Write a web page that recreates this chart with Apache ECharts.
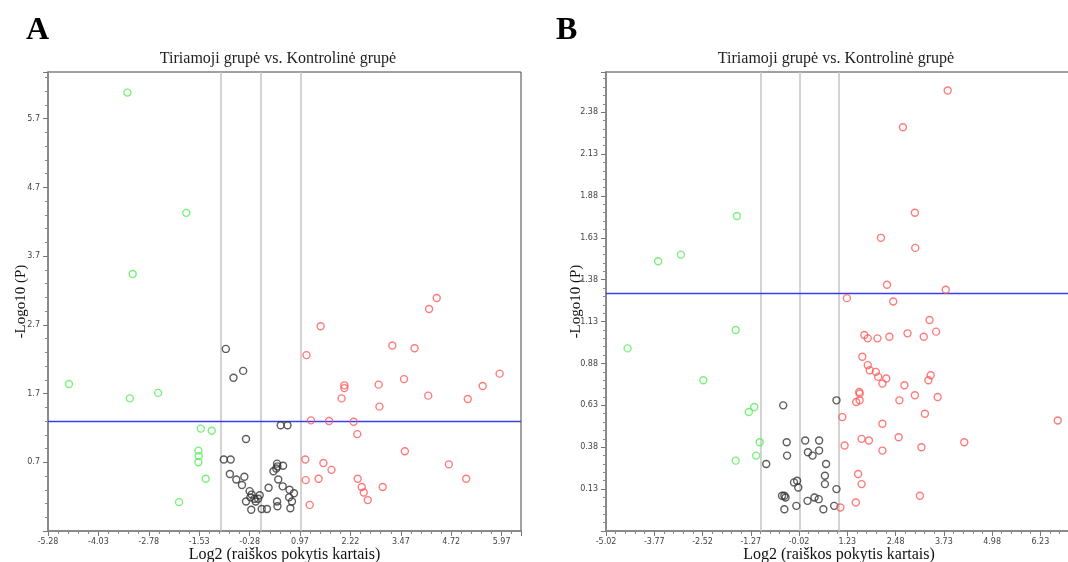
<!DOCTYPE html>
<html>
<head>
<meta charset="utf-8">
<title>Volcano plots</title>
<script src="https://cdn.jsdelivr.net/npm/echarts@6/dist/echarts.min.js"></script>
<style>
  html, body { margin: 0; padding: 0; background: #fff; }
  #chart { width: 1068px; height: 562px; }
</style>
</head>
<body>
<div id="chart"></div>
<script>
// [log2 fold change, -log10 p] per point
const aGreen = [
  [-3.31, 6.08], [-1.85, 4.33], [-3.18, 3.44], [-4.76, 1.84], [-3.25, 1.63],
  [-2.55, 1.71], [-1.49, 1.19], [-1.22, 1.16], [-1.55, 0.87], [-1.54, 0.79],
  [-1.55, 0.70], [-1.37, 0.46], [-2.03, 0.12]
]
const aBlack = [
  [-0.87, 2.35], [-0.44, 2.03], [-0.68, 1.93], [-0.37, 1.04], [-0.92, 0.74],
  [-0.75, 0.74], [0.49, 1.24], [0.66, 1.24], [0.40, 0.68], [0.41, 0.64],
  [0.55, 0.65], [0.38, 0.61], [0.31, 0.57], [-0.77, 0.53], [-0.61, 0.45],
  [-0.41, 0.49], [-0.47, 0.37], [0.43, 0.45], [0.54, 0.35], [0.19, 0.33],
  [0.71, 0.30], [0.82, 0.25], [-0.28, 0.28], [-0.23, 0.23], [-0.26, 0.19],
  [-0.03, 0.22], [-0.16, 0.17], [-0.07, 0.17], [-0.13, 0.13], [-0.37, 0.13],
  [0.70, 0.19], [0.77, 0.13], [0.40, 0.13], [0.41, 0.06], [0.02, 0.02],
  [0.15, 0.02], [-0.24, 0.01], [0.73, 0.03]
]
const aRed = [
  [4.36, 3.09], [4.17, 2.93], [1.48, 2.68], [3.26, 2.40], [3.81, 2.36],
  [1.13, 2.26], [5.92, 1.99], [3.55, 1.91], [5.50, 1.81], [2.07, 1.82],
  [2.07, 1.78], [2.92, 1.83], [4.15, 1.67], [2.00, 1.63], [5.13, 1.62],
  [2.94, 1.51], [1.24, 1.31], [1.69, 1.30], [2.30, 1.29], [2.39, 1.11],
  [3.57, 0.86], [1.10, 0.74], [1.55, 0.69], [4.66, 0.67], [1.75, 0.59],
  [1.11, 0.44], [1.43, 0.46], [2.40, 0.46], [5.09, 0.46], [2.50, 0.34],
  [3.02, 0.34], [2.55, 0.26], [2.65, 0.15], [1.21, 0.08]
]

const bGreen = [
  [-3.67, 1.49], [-3.08, 1.53], [-1.63, 1.76], [-1.66, 1.08], [-4.46, 0.97],
  [-2.50, 0.78], [-1.18, 0.62], [-1.32, 0.59], [-1.04, 0.41], [-1.13, 0.33],
  [-1.66, 0.30]
]
const bBlack = [
  [-0.43, 0.63], [0.95, 0.66], [-0.34, 0.41], [0.14, 0.42], [0.50, 0.42],
  [-0.33, 0.33], [0.21, 0.35], [0.33, 0.33], [0.50, 0.36], [-0.87, 0.28],
  [0.68, 0.28], [-0.07, 0.18], [-0.15, 0.17], [-0.04, 0.14], [0.65, 0.21],
  [0.65, 0.16], [0.95, 0.13], [-0.46, 0.09], [-0.40, 0.09], [-0.37, 0.08],
  [0.38, 0.08], [0.49, 0.07], [0.20, 0.06], [-0.09, 0.03], [-0.40, 0.01],
  [0.61, 0.01], [0.89, 0.03]
]
const bRed = [
  [3.83, 2.51], [2.67, 2.29], [2.98, 1.78], [2.10, 1.63], [2.99, 1.57],
  [2.26, 1.35], [3.78, 1.32], [1.22, 1.27], [2.42, 1.25], [3.36, 1.14],
  [3.53, 1.07], [1.67, 1.05], [1.76, 1.03], [2.01, 1.03], [2.32, 1.04],
  [2.79, 1.06], [3.21, 1.04], [1.62, 0.92], [1.76, 0.87], [1.81, 0.84],
  [1.97, 0.83], [2.03, 0.80], [2.24, 0.79], [2.14, 0.76], [2.71, 0.75],
  [3.39, 0.81], [3.33, 0.78], [1.54, 0.71], [1.55, 0.70], [2.98, 0.69],
  [3.57, 0.68], [1.55, 0.66], [1.46, 0.65], [2.58, 0.66], [3.24, 0.58],
  [1.10, 0.56], [2.14, 0.52], [6.68, 0.54], [1.60, 0.43], [2.56, 0.44],
  [1.79, 0.42], [4.26, 0.41], [1.16, 0.39], [2.14, 0.36], [3.15, 0.38],
  [1.51, 0.22], [1.60, 0.16], [3.11, 0.09], [1.45, 0.05], [1.05, 0.02]
]

const foldLines = [-1, 0, 1]
const pThreshold = 1.3

const titleText = 'Tiriamoji grupė vs. Kontrolinė grupė'
const xName = 'Log2 (raiškos pokytis kartais)'
const yName = '-Logo10 (P)'

const serif = '"Liberation Serif", "DejaVu Serif", serif'

function xAxisFor(idx, min, max) {
  return {
    type: 'value',
    gridIndex: idx,
    min: min,
    max: max,
    interval: 1.25,
    name: xName,
    nameLocation: 'middle',
    nameGap: 16,
    nameMoveOverlap: false,
    nameTextStyle: { fontFamily: serif, fontSize: 16, color: '#111' },
    axisLine: { onZero: false, lineStyle: { color: '#8a8a8a', width: 2 } },
    axisTick: { length: 5, lineStyle: { color: '#777' } },
    minorTick: { show: true, splitNumber: 5, length: 3, lineStyle: { color: '#888' } },
    axisLabel: {
      showMaxLabel: false,
      margin: 7,
      fontSize: 8,
      fontFamily: '"DejaVu Sans", sans-serif',
      color: '#444',
      formatter: v => v.toFixed(2)
    },
    splitLine: { show: false }
  }
}

function yAxisFor(idx, min, max, interval, digits, gap) {
  return {
    type: 'value',
    gridIndex: idx,
    min: min,
    max: max,
    interval: interval,
    name: yName,
    nameLocation: 'middle',
    nameGap: gap,
    nameMoveOverlap: false,
    nameTextStyle: { fontFamily: serif, fontSize: 15, color: '#111' },
    axisLine: { onZero: false, lineStyle: { color: '#8a8a8a', width: 2 } },
    axisTick: { length: 5, lineStyle: { color: '#777' } },
    minorTick: { show: true, splitNumber: 5, length: 3, lineStyle: { color: '#888' } },
    axisLabel: {
      showMinLabel: false,
      showMaxLabel: false,
      margin: 8,
      fontSize: 8,
      fontFamily: '"DejaVu Sans", sans-serif',
      color: '#444',
      formatter: v => v.toFixed(digits)
    },
    splitLine: { show: false }
  }
}

function pointSeries(idx, data, color, withLines) {
  const s = {
    type: 'scatter',
    xAxisIndex: idx,
    yAxisIndex: idx,
    data: data,
    symbol: 'circle',
    symbolSize: 7,
    itemStyle: { color: 'rgba(0,0,0,0)', borderColor: color, borderWidth: 1.4 },
    z: 5
  }
  if (withLines) {
    s.markLine = {
      silent: true,
      symbol: 'none',
      label: { show: false },
      data: foldLines.map(v => ({ xAxis: v, lineStyle: { color: '#c4c4c4', width: 1.5, type: 'solid' } }))
        .concat([{ yAxis: pThreshold, lineStyle: { color: '#3c3cf0', width: 1.3, type: 'solid' } }])
    }
  }
  return s
}

const chart = echarts.init(document.getElementById('chart'), null, { renderer: 'canvas' })

const option = {
  animation: false,
  backgroundColor: '#fff',
  title: [
    { text: 'A', left: 26, top: 15, padding: 0, textStyle: { fontFamily: serif, fontSize: 32, fontWeight: 'bold', color: '#000' } },
    { text: 'B', left: 556, top: 15, padding: 0, textStyle: { fontFamily: serif, fontSize: 32, fontWeight: 'bold', color: '#000' } },
    { text: titleText, left: 278, top: 51, padding: 0, textAlign: 'center', textStyle: { fontFamily: serif, fontSize: 16, fontWeight: 'normal', color: '#222' } },
    { text: titleText, left: 836, top: 51, padding: 0, textAlign: 'center', textStyle: { fontFamily: serif, fontSize: 16, fontWeight: 'normal', color: '#222' } }
  ],
  grid: [
    { left: 48, top: 72, width: 473, height: 459, outerBoundsMode: 'none', containLabel: false, show: true, borderColor: '#444', borderWidth: 1 },
    { left: 606, top: 72, width: 466, height: 459, outerBoundsMode: 'none', containLabel: false, show: true, borderColor: '#444', borderWidth: 1 }
  ],
  xAxis: [
    xAxisFor(0, -5.28, 6.45),
    xAxisFor(1, -5.02, 7.05)
  ],
  yAxis: [
    yAxisFor(0, -0.3, 6.38, 1, 1, 19),
    yAxisFor(1, -0.12, 2.62, 0.25, 2, 22)
  ],
  series: [
    pointSeries(0, aBlack, '#333333', true),
    pointSeries(0, aGreen, '#55ee55', false),
    pointSeries(0, aRed, '#ff5a5a', false),
    pointSeries(1, bBlack, '#333333', true),
    pointSeries(1, bGreen, '#55ee55', false),
    pointSeries(1, bRed, '#ff5a5a', false)
  ]
}

chart.setOption(option)
</script>
</body>
</html>
